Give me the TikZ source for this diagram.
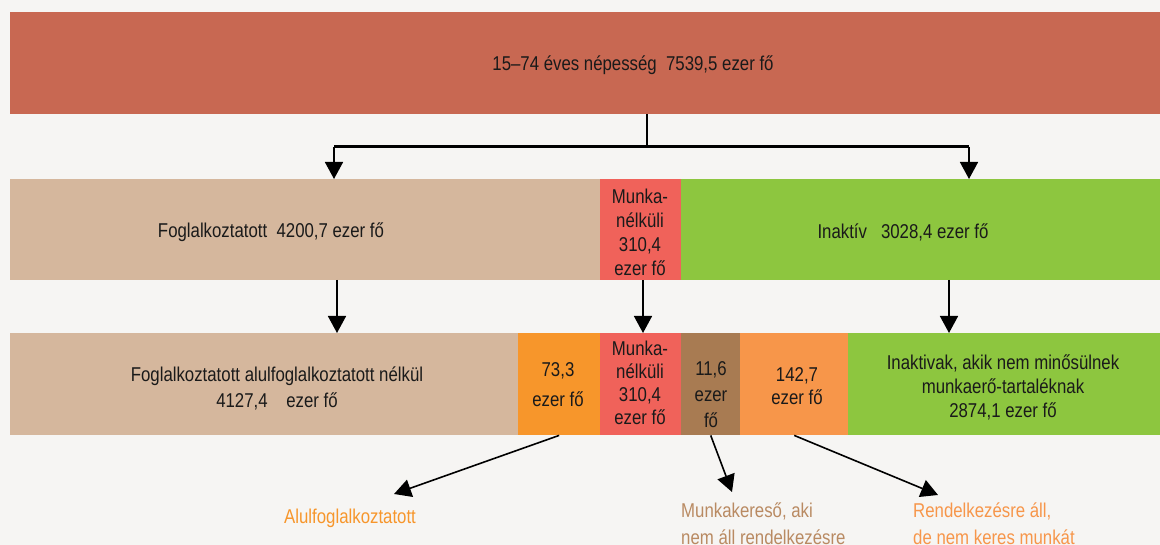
\documentclass[tikz,border=0pt]{standalone}
\usepackage{fontspec}
\setmainfont{Liberation Sans}[FakeStretch=0.84]
\usetikzlibrary{arrows.meta}
\definecolor{bgc}{HTML}{F6F5F3}
\definecolor{topc}{HTML}{C86852}
\definecolor{tanc}{HTML}{D5B79D}
\definecolor{redc}{HTML}{F0625A}
\definecolor{grnc}{HTML}{8DC63F}
\definecolor{orgc}{HTML}{F7962B}
\definecolor{brnc}{HTML}{A87B52}
\definecolor{lorc}{HTML}{F7964A}
\definecolor{lbrn}{HTML}{B98A62}
\definecolor{txtc}{HTML}{1A1A1A}
\begin{document}
\begin{tikzpicture}[x=1pt,y=-1pt,
  box/.style={draw=none,inner sep=0,anchor=north west,minimum height=102pt},
  txt/.style={font=\fontsize{20}{24}\selectfont,align=center,inner sep=0,text=txtc},
  lbl/.style={font=\fontsize{20}{27}\selectfont,align=left,inner sep=0,anchor=west},
  arr/.style={line width=1.6pt,-{Triangle[length=17pt,width=18pt]}},
  thinln/.style={line width=1.6pt},
  barln/.style={line width=3pt}]
\fill[bgc] (0,0) rectangle (1160,545);
\useasboundingbox (0,0) rectangle (1160,545);
% top
\node[box,fill=topc,minimum width=1150pt] (top) at (10,12) {};
% middle row
\node[box,fill=tanc,minimum width=590pt,minimum height=101pt] (emp) at (10,179) {};
\node[box,fill=redc,minimum width=81pt,minimum height=101pt] (une) at (600,179) {};
\node[box,fill=grnc,minimum width=479pt,minimum height=101pt] (ina) at (681,179) {};
% bottom row
\node[box,fill=tanc,minimum width=508pt] (emp2) at (10,333) {};
\node[box,fill=orgc,minimum width=82pt] (und) at (518,333) {};
\node[box,fill=redc,minimum width=81pt] (une2) at (600,333) {};
\node[box,fill=brnc,minimum width=59pt] (seek) at (681,333) {};
\node[box,fill=lorc,minimum width=108pt] (avl) at (740,333) {};
\node[box,fill=grnc,minimum width=312pt] (ina2) at (848,333) {};
% texts
\node[txt] (t0) at (633,65) {15–74 éves népesség\ \ 7539,5 ezer fő};
\node[txt] (t1) at (271,232) {Foglalkoztatott\ \ 4200,7 ezer fő};
\node[txt] (t2) at (640,232) {Munka-\\nélküli\\310,4\\ezer fő};
\node[txt] (t3) at (903,232) {Inaktív\ \ \ 3028,4 ezer fő};
\node[txt,font=\fontsize{20}{26}\selectfont] (t4) at (277,388) {Foglalkoztatott alulfoglalkoztatott nélkül\\4127,4\ \ \ \ ezer fő};
\node[txt,font=\fontsize{20}{30}\selectfont] (t5) at (558,385) {73,3\\ezer fő};
\node[txt,font=\fontsize{20}{23}\selectfont] (t6) at (640,383) {Munka-\\nélküli\\310,4\\ezer fő};
\node[txt,font=\fontsize{20}{26}\selectfont] (t7) at (711,395) {11,6\\ezer\\fő};
\node[txt,font=\fontsize{20}{23}\selectfont] (t8) at (797,386) {142,7\\ezer fő};
\node[txt] (t9) at (1003,387) {Inaktivak, akik nem minősülnek\\munkaerő-tartaléknak\\2874,1 ezer fő};
% bottom labels
\node[lbl,text=orgc] (l1) at (284,518) {Alulfoglalkoztatott};
\node[lbl,text=lbrn] (l2) at (681,524) {Munkakereső, aki\\nem áll rendelkezésre};
\node[lbl,text=lorc] (l3) at (913,524) {Rendelkezésre áll,\\de nem keres munkát};
% connectors top
\coordinate (tv) at (647,147);
\coordinate (bl) at (334,147);
\coordinate (br) at (969,147);
\draw[thinln] (tv |- top.south) -- (tv);
\draw[barln] (bl) -- (br);
\draw[arr] (bl) -- (bl |- emp.north);
\draw[arr] (br) -- (br |- ina.north);
% middle to bottom
\coordinate (m1) at (337,280);
\coordinate (m3) at (949,280);
\draw[arr] (m1) -- (m1 |- emp2.north);
\draw[arr] (une.south -| 643,0) -- (une2.north -| 643,0);
\draw[arr] (m3) -- (m3 |- ina2.north);
% bottom arrows
\coordinate (e1) at (394,494);
\coordinate (e2) at (732,492);
\coordinate (e3) at (938,495);
\draw[arr] (und.south) -- (e1);
\draw[arr] (seek.south) -- (e2);
\draw[arr] (avl.south) -- (e3);
\end{tikzpicture}
\end{document}
